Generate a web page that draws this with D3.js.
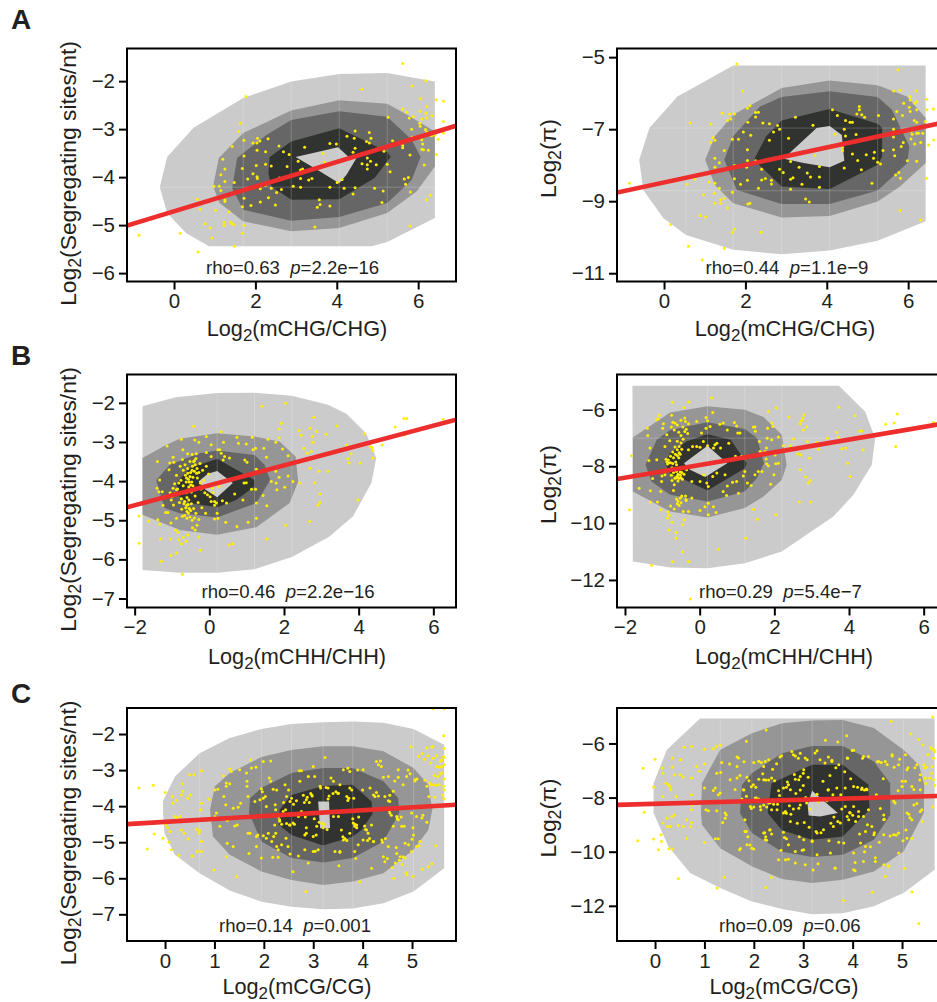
<!DOCTYPE html>
<html>
  <head>
    <meta charset="utf-8" />
    <title>Diversity vs methylation density plots</title>
    <script src="https://d3js.org/d3.v7.min.js"></script>
    <style>
      body { margin: 0; background: #fff; overflow: hidden; }
      svg { display: block; }
      text { font-family: "Liberation Sans", Arial, sans-serif; fill: #231f20; }
    </style>
  </head>
  <body>
    <svg width="937" height="1002"></svg>
    <script>
      // ---- data, in log2 units ----
      const ticksChg = [0, 2, 4, 6];
      const ticksChh = [-2, 0, 2, 4, 6];
      const ticksCg = [0, 1, 2, 3, 4, 5];
      const ticksSegA = [-2, -3, -4, -5, -6];
      const ticksPiA = [-5, -7, -9, -11];
      const ticksSegB = [-2, -3, -4, -5, -6, -7];
      const ticksPiB = [-6, -8, -10, -12];
      const ticksSegC = [-2, -3, -4, -5, -6, -7];
      const ticksPiC = [-6, -8, -10, -12];

      const levelColors = ["#cbcbcb", "#969696", "#666666", "#313331", "#cbcbcb"];

      // contour rings: outer, mid, inner, core, hole
      const a1Rings = [
        [[-0.35,-4.21],[-0.17,-3.58],[0.48,-2.97],[1.70,-2.35],[2.88,-2.01],[4.06,-1.85],[5.24,-1.83],[6.41,-2.01],[6.41,-4.85],[5.24,-5.35],[4.85,-5.44],[0.86,-5.44],[0.30,-5.17],[-0.17,-4.75]],
        [[0.96,-4.19],[1.10,-3.60],[1.70,-3.08],[2.88,-2.61],[4.06,-2.40],[5.24,-2.47],[5.73,-2.70],[6.41,-3.05],[6.41,-3.78],[5.96,-4.30],[5.24,-4.75],[4.06,-5.06],[2.88,-5.13],[1.70,-4.92],[1.12,-4.54]],
        [[1.43,-4.23],[1.55,-3.60],[2.27,-3.12],[2.88,-2.81],[4.06,-2.63],[5.24,-2.74],[5.84,-3.22],[6.06,-3.58],[5.84,-4.06],[5.24,-4.54],[4.06,-4.83],[2.88,-4.91],[1.70,-4.68]],
        [[2.32,-3.92],[2.35,-3.58],[2.88,-3.26],[4.06,-2.98],[5.24,-3.47],[5.32,-3.58],[4.93,-4.02],[4.06,-4.46],[2.88,-4.47],[2.39,-4.19]],
        [[2.99,-3.58],[4.03,-3.38],[4.28,-3.57],[4.50,-3.58],[4.24,-3.95],[4.06,-4.13],[3.58,-3.88]]
      ];
      const a2Rings = [
        [[-0.61,-7.85],[-0.36,-6.97],[0.33,-6.09],[1.70,-5.23],[6.43,-5.23],[6.43,-9.56],[5.25,-10.10],[4.07,-10.37],[2.89,-10.47],[1.70,-10.35],[0.54,-9.94],[-0.02,-9.47],[-0.51,-8.69]],
        [[1.01,-7.85],[1.25,-7.20],[1.70,-6.60],[2.89,-5.86],[4.07,-5.65],[5.25,-5.78],[5.97,-6.09],[6.43,-6.69],[6.43,-7.94],[5.80,-8.59],[5.25,-9.01],[4.07,-9.41],[2.89,-9.45],[1.70,-9.06],[1.25,-8.55]],
        [[1.48,-7.85],[1.70,-7.20],[2.36,-6.37],[2.89,-6.11],[4.07,-5.95],[5.25,-6.11],[5.60,-6.46],[6.03,-7.48],[5.98,-7.94],[5.25,-8.70],[4.07,-9.08],[2.89,-9.08],[1.79,-8.69]],
        [[2.21,-7.85],[2.51,-7.20],[2.89,-6.76],[4.07,-6.44],[5.25,-6.85],[5.36,-6.97],[5.36,-7.76],[5.25,-7.99],[4.07,-8.66],[2.89,-8.59]],
        [[3.06,-7.69],[3.75,-6.97],[4.07,-6.91],[4.37,-7.16],[4.43,-7.88],[4.07,-8.06],[3.43,-7.94],[2.89,-7.81]]
      ];
      const b1Rings = [
        [[-1.79,-2.09],[-0.90,-1.86],[0.21,-1.75],[1.21,-1.74],[2.21,-1.82],[3.18,-2.05],[3.67,-2.28],[4.20,-2.78],[4.47,-3.41],[4.34,-4.05],[3.85,-4.90],[3.21,-5.42],[2.21,-5.94],[1.21,-6.25],[0.21,-6.34],[-0.79,-6.34],[-1.79,-6.27]],
        [[-1.79,-3.41],[-1.15,-3.07],[-0.79,-2.92],[0.21,-2.78],[1.21,-2.86],[1.88,-2.99],[2.31,-3.37],[2.38,-4.01],[2.15,-4.56],[1.26,-5.18],[0.21,-5.37],[-0.79,-5.25],[-1.79,-4.86]],
        [[-1.42,-3.98],[-1.06,-3.58],[-0.26,-3.29],[0.21,-3.22],[1.21,-3.33],[1.48,-3.58],[1.63,-3.97],[1.26,-4.56],[0.21,-4.93],[-0.79,-4.82],[-1.20,-4.69]],
        [[-0.88,-4.05],[-0.53,-3.67],[0.21,-3.43],[1.21,-3.97],[1.21,-4.14],[0.72,-4.48],[0.21,-4.67],[-0.53,-4.56],[-0.81,-4.39]],
        [[-0.29,-4.01],[-0.04,-3.81],[0.21,-3.74],[0.63,-4.05],[0.21,-4.41],[-0.13,-4.20]]
      ];
      const b2Rings = [
        [[-1.80,-5.17],[3.73,-5.17],[4.43,-6.07],[4.70,-7.01],[4.61,-7.95],[4.12,-9.00],[3.58,-9.77],[2.20,-11.00],[1.21,-11.41],[0.21,-11.59],[-0.79,-11.56],[-1.79,-11.35]],
        [[-1.79,-6.99],[-0.79,-6.11],[0.21,-5.89],[1.21,-6.01],[1.71,-6.27],[2.20,-6.89],[2.33,-7.95],[2.20,-8.48],[1.71,-9.06],[1.21,-9.47],[0.21,-9.80],[-0.79,-9.59],[-1.79,-8.89]],
        [[-1.45,-7.95],[-1.15,-7.07],[-0.79,-6.72],[0.21,-6.45],[1.21,-6.69],[1.54,-7.01],[1.72,-7.89],[1.53,-8.42],[1.21,-8.89],[0.21,-9.24],[-0.79,-9.00],[-1.29,-8.54]],
        [[-0.93,-7.89],[-0.79,-7.54],[-0.35,-7.13],[0.21,-6.87],[0.83,-7.07],[1.26,-7.89],[1.21,-8.07],[0.21,-8.85],[-0.79,-8.24]],
        [[-0.42,-7.89],[0.21,-7.28],[0.74,-7.89],[0.15,-8.38],[-0.26,-8.12]]
      ];
      const c1Rings = [
        [[-0.04,-4.19],[-0.04,-3.85],[0.20,-3.18],[0.70,-2.53],[1.31,-2.11],[1.95,-1.86],[2.56,-1.72],[3.20,-1.67],[3.80,-1.65],[4.42,-1.69],[5.03,-1.86],[5.65,-2.30],[5.65,-5.72],[5.03,-6.37],[4.42,-6.69],[3.80,-6.84],[3.20,-6.86],[2.56,-6.79],[1.95,-6.65],[1.31,-6.34],[0.70,-5.86],[0.20,-5.35],[-0.01,-4.75]],
        [[0.91,-4.10],[1.01,-3.45],[1.31,-3.08],[1.95,-2.64],[2.56,-2.44],[3.20,-2.34],[3.80,-2.34],[4.42,-2.48],[5.03,-2.94],[5.33,-3.41],[5.41,-4.10],[5.33,-4.66],[5.03,-5.21],[4.42,-5.86],[3.80,-6.09],[3.20,-6.19],[2.56,-6.05],[1.95,-5.81],[1.31,-5.35],[0.97,-4.84]],
        [[1.70,-4.19],[1.72,-3.78],[1.95,-3.50],[2.56,-3.08],[3.20,-2.94],[3.80,-2.94],[4.42,-3.31],[4.72,-3.78],[4.74,-4.19],[4.42,-4.98],[3.80,-5.44],[3.20,-5.56],[2.56,-5.44],[1.95,-4.98]],
        [[2.32,-4.10],[2.56,-3.69],[3.20,-3.44],[3.80,-3.41],[4.18,-3.87],[4.20,-4.21],[3.98,-4.66],[3.80,-4.84],[3.20,-5.09],[2.56,-4.80],[2.31,-4.52]],
        [[3.10,-3.87],[3.32,-3.87],[3.34,-4.61],[3.14,-4.61]]
      ];
      const c2Rings = [
        [[0.91,-5.08],[5.66,-5.08],[5.66,-10.67],[5.03,-11.53],[4.43,-12.02],[3.80,-12.27],[3.18,-12.31],[2.57,-12.12],[1.96,-11.84],[1.32,-11.34],[0.71,-10.79],[0.27,-9.81],[-0.03,-8.57],[-0.03,-7.47],[0.24,-6.23]],
        [[0.93,-8.57],[0.95,-7.47],[1.32,-6.23],[1.96,-5.62],[2.57,-5.25],[3.18,-5.15],[3.80,-5.13],[4.43,-5.43],[5.03,-6.23],[5.34,-6.79],[5.45,-7.53],[5.44,-8.57],[5.03,-9.99],[4.43,-10.73],[3.80,-11.04],[3.18,-11.16],[2.57,-11.01],[1.96,-10.54],[1.32,-9.87],[0.95,-9.00]],
        [[1.72,-8.57],[1.76,-7.53],[1.96,-7.10],[2.57,-6.36],[3.18,-6.09],[3.80,-6.09],[4.43,-6.67],[4.76,-7.47],[4.76,-8.64],[4.43,-9.56],[3.80,-10.11],[3.18,-10.20],[2.57,-10.00],[1.96,-9.31]],
        [[2.28,-8.57],[2.36,-7.47],[3.18,-6.79],[3.80,-6.79],[4.32,-7.53],[4.34,-8.45],[3.80,-9.44],[3.18,-9.56],[2.57,-9.21]],
        [[3.09,-8.27],[3.18,-7.75],[3.70,-8.57],[3.34,-8.70],[3.11,-8.66]]
      ];

      const a1Seams = { x: [1.70, 2.88, 4.06, 5.24], y: [-4.21] };
      const a2Seams = { x: [0.54, 1.70, 2.89, 4.07, 5.25], y: [-6.97, -8.71] };
      const b1Seams = { x: [0.21, 1.21, 2.21], y: [] };
      const b2Seams = { x: [0.21, 1.21, 2.20], y: [-7.01] };
      const c1Seams = { x: [0.70, 1.95, 2.56, 3.20, 3.80, 5.03], y: [] };
      const c2Seams = { x: [1.32, 1.96, 2.57, 3.18, 3.80, 5.03], y: [] };

      const a1Points = [[-0.86,-5.21],[0.15,-5.17],[0.59,-5.56],[0.57,-4.46],[0.64,-4.67],[0.76,-4.97],[0.89,-5.06],[0.93,-5.27],[1.02,-4.69],[0.98,-4.19],[1.11,-4.19],[1.15,-4.28],[1.15,-3.95],[1.20,-3.63],[1.25,-3.83],[1.25,-4.09],[1.25,-4.47],[1.25,-4.51],[1.35,-4.72],[1.23,-4.94],[1.23,-5.01],[1.39,-4.94],[1.43,-4.97],[1.47,-4.99],[1.48,-5.44],[1.48,-4.11],[1.43,-3.36],[1.59,-3.05],[1.63,-2.88],[1.77,-2.32],[1.72,-3.23],[1.72,-3.56],[1.68,-3.82],[1.81,-4.04],[1.72,-4.44],[1.68,-4.62],[1.72,-5.01],[1.68,-5.17],[1.89,-4.59],[1.94,-3.29],[2.05,-3.19],[2.04,-3.29],[2.11,-3.25],[2.04,-3.44],[2.25,-3.47],[2.31,-3.20],[2.02,-3.76],[1.94,-3.93],[2.04,-3.99],[2.05,-4.03],[2.12,-4.24],[2.25,-3.73],[2.39,-3.77],[2.25,-4.17],[2.12,-4.52],[2.32,-4.43],[2.39,-4.23],[2.52,-4.32],[2.49,-4.58],[2.59,-4.02],[2.64,-4.26],[2.58,-3.35],[2.69,-3.47],[2.83,-3.53],[2.78,-3.78],[3.05,-3.67],[3.11,-3.85],[3.16,-3.83],[2.93,-4.19],[3.11,-4.03],[3.11,-4.21],[3.21,-3.38],[3.31,-4.06],[3.39,-4.03],[3.46,-5.04],[3.52,-4.63],[3.57,-4.47],[3.59,-4.57],[3.66,-3.51],[3.70,-3.69],[3.83,-3.30],[3.99,-3.31],[3.83,-4.21],[3.83,-4.60],[4.01,-4.11],[4.13,-4.05],[4.18,-4.23],[4.25,-3.15],[4.45,-3.04],[4.43,-3.19],[4.45,-3.40],[4.40,-3.48],[4.40,-4.35],[4.45,-4.22],[4.62,-2.17],[4.62,-3.72],[4.80,-3.07],[4.84,-3.19],[4.73,-3.26],[4.80,-3.29],[4.75,-3.60],[4.83,-3.67],[4.75,-3.74],[4.75,-3.83],[4.97,-3.74],[4.93,-4.23],[5.11,-4.53],[5.14,-4.29],[5.16,-3.46],[5.24,-3.73],[5.31,-3.89],[5.26,-2.75],[5.37,-3.24],[5.62,-1.63],[5.62,-2.58],[5.62,-3.34],[5.62,-3.39],[5.66,-4.04],[5.76,-4.01],[5.69,-4.15],[5.81,-4.31],[5.80,-5.02],[5.72,-2.65],[5.78,-2.77],[5.88,-2.74],[5.84,-3.00],[5.85,-3.17],[5.80,-3.54],[5.85,-2.10],[6.06,-2.36],[6.19,-1.99],[6.05,-2.63],[6.19,-2.67],[6.21,-2.53],[6.09,-2.79],[6.21,-2.77],[6.34,-2.72],[6.45,-2.39],[6.62,-2.42],[6.04,-2.88],[6.05,-2.94],[6.18,-3.01],[6.21,-3.06],[6.09,-3.22],[6.11,-3.31],[6.09,-3.42],[6.13,-3.43],[6.25,-3.44],[6.15,-3.75],[6.21,-4.47],[6.30,-4.38],[6.45,-3.53],[6.49,-3.21],[6.41,-3.13],[6.62,-2.84],[6.62,-3.08],[6.33,-3.14]];

      const a2Points = [[-0.85,-8.50],[0.16,-9.65],[0.57,-8.53],[0.60,-10.25],[0.64,-6.83],[0.76,-8.39],[0.94,-10.63],[0.97,-8.82],[0.89,-9.40],[1.02,-9.44],[1.11,-8.47],[1.15,-6.86],[1.15,-7.36],[1.20,-7.23],[1.25,-7.31],[1.25,-7.81],[1.25,-8.06],[1.25,-8.50],[1.24,-8.78],[1.25,-9.06],[1.36,-7.93],[1.36,-8.64],[1.39,-8.96],[1.39,-9.06],[1.43,-6.56],[1.48,-7.59],[1.48,-8.92],[1.48,-10.31],[1.56,-6.76],[1.56,-9.19],[1.61,-6.58],[1.64,-6.72],[1.68,-7.28],[1.68,-8.75],[1.68,-9.87],[1.73,-6.58],[1.73,-9.78],[1.73,-8.01],[1.73,-8.38],[1.79,-5.19],[1.83,-7.28],[1.88,-8.53],[1.93,-5.94],[1.95,-7.08],[2.05,-6.42],[2.11,-6.35],[2.06,-6.81],[2.05,-7.57],[2.05,-7.87],[2.03,-8.06],[2.05,-8.42],[2.06,-9.08],[2.11,-9.06],[2.13,-7.17],[2.25,-6.54],[2.32,-6.53],[2.25,-6.66],[2.25,-7.88],[2.32,-8.64],[2.40,-8.11],[2.40,-8.41],[2.39,-9.86],[2.43,-6.83],[2.49,-8.37],[2.59,-6.85],[2.59,-7.31],[2.64,-8.42],[2.64,-8.52],[2.69,-7.08],[2.79,-6.90],[2.84,-7.00],[2.84,-8.11],[2.93,-8.20],[3.06,-7.25],[3.11,-7.90],[3.11,-8.39],[3.11,-8.67],[3.17,-8.35],[3.23,-6.67],[3.32,-8.06],[3.39,-8.53],[3.48,-8.94],[3.52,-8.22],[3.57,-9.02],[3.60,-8.33],[3.66,-6.89],[3.71,-7.73],[3.82,-8.04],[3.82,-8.33],[3.82,-8.61],[4.00,-7.53],[4.14,-6.46],[4.20,-7.14],[4.26,-6.62],[4.39,-7.51],[4.39,-7.59],[4.43,-7.00],[4.46,-6.76],[4.46,-7.19],[4.43,-8.08],[4.57,-6.81],[4.63,-6.81],[4.63,-7.69],[4.72,-7.15],[4.74,-6.58],[4.76,-7.87],[4.80,-6.37],[4.80,-6.46],[4.86,-6.60],[4.85,-8.13],[4.93,-6.67],[4.97,-7.71],[5.11,-8.50],[5.15,-7.81],[5.17,-7.64],[5.25,-7.92],[5.27,-6.62],[5.32,-7.97],[5.38,-7.59],[5.64,-5.94],[5.64,-6.72],[5.64,-7.00],[5.64,-7.22],[5.64,-7.57],[5.67,-7.74],[5.69,-8.27],[5.75,-5.35],[5.77,-8.20],[5.81,-8.36],[5.80,-9.26],[5.80,-5.92],[5.72,-6.51],[5.86,-6.62],[5.89,-6.28],[5.83,-7.48],[5.88,-7.37],[5.84,-7.04],[5.98,-7.88],[6.05,-6.09],[6.05,-6.19],[6.03,-6.39],[6.05,-6.51],[6.16,-6.28],[6.21,-6.23],[6.20,-5.94],[6.21,-6.46],[6.15,-6.76],[6.21,-6.81],[6.07,-7.06],[6.10,-7.14],[6.07,-7.27],[6.16,-7.41],[6.21,-7.11],[6.31,-7.37],[6.25,-7.11],[6.36,-7.11],[6.21,-7.89],[6.31,-9.52],[6.45,-8.36],[6.46,-6.17],[6.46,-6.46],[6.42,-6.79],[6.62,-6.44],[6.63,-7.30],[6.50,-7.44]];

      const b1Points = [[-1.88,-4.89],[-1.88,-5.59],[-1.62,-5.02],[-1.39,-3.50],[-1.40,-4.18],[-1.33,-3.97],[-1.35,-4.27],[-1.26,-4.27],[-1.38,-4.99],[-1.33,-5.10],[-1.31,-5.48],[-1.29,-6.05],[-1.24,-4.62],[-1.13,-3.10],[-1.17,-4.80],[-1.11,-4.80],[-1.06,-3.54],[-1.08,-3.71],[-1.03,-5.07],[-1.04,-5.48],[-1.03,-5.90],[-1.02,-4.48],[-0.97,-3.39],[-0.95,-3.52],[-0.93,-4.07],[-0.97,-4.18],[-0.96,-4.61],[-0.88,-5.84],[-0.90,-5.25],[-0.84,-5.31],[-0.88,-4.95],[-0.82,-5.50],[-0.75,-2.93],[-0.72,-6.38],[-0.71,-3.20],[-0.42,-2.60],[-0.39,-2.95],[-0.28,-3.01],[-0.08,-2.86],[-0.24,-5.77],[-0.28,-5.43],[-0.75,-5.60],[-0.62,-5.54],[-0.70,-5.44],[-0.58,-5.38],[-0.45,-5.19],[-0.38,-5.25],[-0.33,-5.13],[-0.46,-5.00],[-0.40,-4.94],[-0.28,-4.98],
        [-0.88,-3.85],[-0.85,-4.20],[-0.82,-4.05],[-0.80,-4.32],[-0.78,-3.62],[-0.76,-3.98],[-0.75,-4.45],[-0.74,-4.72],[-0.72,-3.45],[-0.70,-3.72],[-0.70,-4.12],[-0.68,-4.58],[-0.66,-4.88],[-0.65,-3.58],[-0.64,-3.85],[-0.62,-4.02],[-0.62,-4.30],[-0.60,-4.62],[-0.60,-4.78],[-0.58,-3.30],[-0.58,-3.68],[-0.56,-3.95],[-0.55,-4.15],[-0.55,-4.48],[-0.54,-4.70],[-0.52,-4.92],[-0.52,-3.50],[-0.50,-3.78],[-0.50,-4.10],[-0.48,-4.28],[-0.48,-4.58],[-0.46,-3.32],[-0.45,-3.62],[-0.44,-3.90],[-0.44,-4.12],[-0.42,-4.70],[-0.40,-3.48],[-0.40,-3.75],[-0.38,-3.58],[-0.38,-4.38],[-0.36,-4.82],[-0.35,-3.30],[-0.33,-3.68],[-0.32,-3.92],[-0.30,-4.55],[-0.28,-3.78],[-0.25,-3.55],[-0.24,-4.05],[-0.22,-4.20],[-0.20,-4.68],[-0.18,-3.72],[-0.15,-3.98],[-0.12,-4.30],[-0.10,-4.82],[-0.08,-3.62],[-0.05,-4.35],[-0.02,-3.82],[0.02,-4.40],[0.05,-4.52],[0.08,-4.18],[0.14,-4.62],[-0.66,-4.52],[-0.63,-4.68],[-0.60,-4.42],[-0.57,-4.60],[-0.56,-4.82],[-0.61,-3.92],[-0.58,-3.80],[-0.54,-4.02],[-0.52,-3.88],[-0.47,-4.02],[-0.46,-3.72],[-0.42,-3.50],[-0.36,-3.42],[-0.34,-3.80],[-0.60,-4.95],[-0.50,-4.75],[-0.72,-4.90],[-0.80,-4.55],[-1.00,-4.40],[-1.05,-4.30],[-0.92,-4.32],[-0.88,-4.22],
        [0.31,-2.74],[0.38,-3.01],[0.74,-2.88],[0.78,-3.03],[0.99,-3.05],[1.15,-2.88],[1.24,-3.16],[1.17,-3.20],[1.46,-3.16],[1.41,-2.09],[1.57,-2.93],[1.87,-2.67],[1.93,-2.52],[2.04,-2.01],[1.87,-2.89],[1.78,-3.01],[1.96,-3.18],[2.11,-3.35],[1.53,-3.39],[1.78,-3.75],[1.87,-3.90],[1.66,-4.01],[1.79,-4.05],[2.02,-4.16],[1.81,-4.22],[2.24,-4.01],[2.11,-3.87],[2.42,-4.05],[2.40,-2.71],[2.46,-2.83],[2.69,-2.65],[2.87,-2.73],[2.76,-2.86],[2.78,-3.01],[2.80,-2.37],[2.53,-3.16],[2.62,-3.29],[2.73,-3.24],[2.69,-3.67],[2.94,-3.75],[3.18,-3.75],[3.13,-2.80],[3.42,-2.59],[2.82,-4.04],[2.96,-4.33],[2.96,-4.55],[2.91,-4.62],[2.69,-5.03],[2.04,-5.13],[1.54,-5.48],[0.53,-5.63],[0.63,-5.60],[1.26,-4.95],[1.04,-5.05],[0.74,-5.16],[0.44,-5.05],[1.54,-4.63],[1.44,-4.37],[1.26,-4.56],[1.13,-4.21],[1.24,-4.21],[0.99,-4.04],[0.93,-4.05],[0.68,-4.33],[0.90,-4.48],[0.46,-4.56],[0.35,-4.50],[0.26,-4.14],[0.10,-4.29],[0.19,-4.56],[0.14,-4.52],[0.21,-4.82],[0.23,-4.95],[0.14,-4.97],[0.95,-3.46],[1.01,-3.52],[1.26,-3.70],[0.41,-3.37],[0.37,-3.46],[0.54,-3.41],[0.23,-3.20],[0.28,-3.20],[0.32,-3.29],[0.05,-3.37],[-0.08,-3.27],[0.05,-3.07],[3.67,-3.08],[3.71,-3.43],[3.74,-3.54],[3.80,-3.30],[4.04,-3.54],[3.98,-4.48],[4.16,-2.79],[4.31,-3.12],[4.36,-3.14],[4.38,-3.22],[4.38,-3.41],[4.63,-3.08],[4.98,-2.62],[5.21,-2.40],[5.29,-2.40],[5.23,-2.82],[6.26,-2.42]];

      const b2Points = [[-1.88,-9.53],[-1.83,-7.63],[-1.62,-8.77],[-1.40,-6.66],[-1.39,-6.92],[-1.33,-7.36],[-1.36,-7.80],[-1.26,-8.43],[-1.32,-8.86],[-1.32,-9.26],[-1.29,-11.48],[-1.15,-7.77],[-1.15,-6.36],[-1.11,-6.34],[-1.08,-6.20],[-0.99,-6.66],[-0.97,-6.50],[-1.04,-9.53],[-1.13,-9.26],[-1.02,-8.54],[-1.04,-8.89],[-1.01,-8.34],[-0.93,-8.30],[-0.93,-7.30],[-0.88,-6.89],[-0.75,-6.20],[-0.73,-5.75],[-0.76,-6.62],[-0.68,-6.72],[-0.73,-11.35],[-0.82,-10.24],[-0.74,-9.97],[-0.63,-10.33],[-0.63,-10.53],[-0.46,-11.01],[-0.46,-10.06],[-0.41,-9.88],[-0.42,-5.93],[-0.29,-5.74],[-0.29,-11.35],[-0.25,-12.67],
        [-0.90,-7.75],[-0.88,-7.85],[-0.86,-7.92],[-0.84,-7.78],[-0.82,-7.88],[-0.80,-7.10],[-0.78,-7.65],[-0.76,-8.32],[-0.74,-8.05],[-0.74,-8.50],[-0.72,-7.50],[-0.70,-7.70],[-0.70,-8.22],[-0.68,-8.65],[-0.66,-7.32],[-0.65,-7.58],[-0.64,-7.85],[-0.63,-8.40],[-0.62,-8.18],[-0.60,-7.12],[-0.60,-7.62],[-0.58,-8.28],[-0.58,-8.52],[-0.56,-6.80],[-0.55,-7.30],[-0.55,-7.52],[-0.54,-8.08],[-0.52,-8.32],[-0.50,-6.92],[-0.50,-7.18],[-0.48,-8.22],[-0.46,-8.46],[-0.45,-6.62],[-0.44,-7.05],[-0.42,-8.28],[-0.40,-6.78],[-0.38,-6.42],[-0.36,-6.70],[-0.35,-8.12],[-0.32,-6.85],[-0.30,-6.50],[-0.62,-9.15],[-0.60,-9.32],[-0.58,-9.22],[-0.55,-9.38],[-0.52,-9.12],[-0.50,-9.28],[-0.48,-9.05],[-0.70,-8.85],[-0.68,-9.50],[-0.78,-9.40],[-0.85,-9.60],[-0.82,-9.72],[-0.86,-9.82],[-0.72,-6.45],[-0.66,-6.48],[-0.60,-6.55],[-0.50,-6.38],[-0.40,-6.30],[-0.36,-9.20],[-0.38,-9.05],[-0.66,-8.42],[-0.60,-8.35],[-0.56,-8.42],[-0.52,-8.20],[-0.50,-8.40],[-0.60,-7.42],[-0.56,-7.70],[-0.52,-7.58],[-0.48,-7.40],[-0.62,-7.95],[-0.78,-7.88],[-0.72,-7.90],
        [1.60,-7.13],[1.62,-7.48],[1.75,-7.48],[1.81,-7.01],[1.79,-7.36],[1.93,-7.07],[2.11,-6.97],[2.24,-7.28],[1.78,-7.74],[1.79,-7.91],[1.84,-7.98],[2.02,-7.60],[2.04,-7.91],[2.11,-7.89],[1.57,-8.18],[1.67,-8.18],[1.48,-8.30],[1.90,-8.63],[1.99,-8.30],[1.38,-8.68],[1.28,-8.59],[1.17,-8.34],[1.21,-8.18],[1.21,-7.71],[0.96,-7.65],[1.12,-7.65],[1.44,-6.62],[1.48,-6.62],[1.49,-6.77],[1.02,-6.83],[1.08,-6.83],[0.93,-6.46],[0.99,-6.58],[0.74,-6.72],[0.78,-7.19],[0.54,-6.52],[0.63,-6.48],[0.41,-7.24],[0.37,-7.36],[0.46,-7.19],[0.56,-7.36],[0.17,-6.28],[0.21,-6.40],[0.28,-6.60],[0.17,-6.66],[0.05,-6.83],[-0.08,-6.42],[0.21,-7.28],[0.10,-7.13],[0.01,-7.33],[-0.19,-7.30],[-0.08,-7.30],[-0.30,-7.42],[0.46,-8.24],[0.68,-8.30],[0.35,-8.36],[0.10,-8.30],[-0.21,-8.54],[0.01,-8.54],[0.19,-8.59],[0.23,-8.71],[0.88,-8.56],[0.99,-8.54],[0.74,-8.69],[0.63,-8.89],[0.72,-9.03],[1.04,-8.95],[0.37,-9.42],[0.44,-9.63],[0.23,-9.30],[0.23,-9.71],[0.01,-9.56],[0.14,-9.42],[-0.21,-9.12],[-0.37,-9.18],[-0.30,-9.59],[-0.44,-9.59],
        [0.32,-5.60],[0.35,-6.11],[0.50,-10.92],[1.24,-10.53],[1.44,-9.51],[1.54,-9.86],[2.04,-9.71],[1.84,-6.07],[2.05,-5.95],[1.93,-6.48],[1.96,-6.60],[1.82,-6.66],[2.39,-6.27],[2.80,-6.19],[2.76,-6.31],[2.73,-6.40],[2.69,-6.50],[2.78,-6.72],[2.87,-6.62],[2.51,-7.04],[2.42,-7.28],[2.63,-7.57],[2.71,-7.60],[2.88,-7.13],[2.94,-7.71],[2.69,-8.12],[2.84,-8.38],[2.96,-8.50],[2.91,-8.59],[2.67,-9.26],[2.97,-9.26],[3.73,-5.92],[4.16,-6.22],[3.13,-7.16],[3.18,-7.40],[3.42,-7.01],[3.67,-6.81],[3.71,-6.97],[3.81,-7.38],[3.91,-7.36],[3.96,-7.89],[4.03,-8.36],[4.29,-6.77],[4.34,-6.75],[4.38,-7.42],[4.98,-6.52],[5.21,-6.48],[5.25,-7.30],[5.29,-6.16],[6.26,-6.46]];

      const c1Points = [[-0.53,-3.50],[-0.24,-3.42],[-0.36,-5.19],[-0.22,-4.77],[0.00,-3.62],[-0.04,-4.89],[0.13,-5.21],[0.15,-3.73],[0.16,-3.92],[0.28,-5.36],[0.20,-4.29],[0.24,-4.33],[0.30,-4.29],[0.35,-3.38],[0.33,-3.69],[0.36,-3.59],[0.23,-3.84],[0.33,-4.66],[0.39,-4.75],[0.47,-4.91],[0.50,-3.13],[0.59,-3.13],[0.51,-3.69],[0.46,-3.78],[0.55,-5.38],[0.64,-4.64],[0.69,-4.75],[0.74,-3.02],[0.74,-3.92],[0.72,-4.10],[0.74,-4.98],[0.65,-5.26],[0.74,-5.26],[0.05,-4.60],[0.10,-4.70],[0.02,-4.52],[0.08,-5.00],[0.70,-4.68],[0.99,-5.77],[0.89,-3.81],[1.01,-3.55],[1.07,-3.53],[1.04,-4.19],[1.01,-4.29],[1.18,-3.16],[1.24,-3.36],[1.31,-3.38],[1.24,-3.45],[1.19,-3.73],[1.31,-2.97],[1.34,-3.04],[1.51,-2.99],[1.23,-3.96],[1.38,-4.06],[1.48,-4.03],[1.53,-3.92],[1.11,-4.56],[1.26,-4.40],[1.41,-4.55],[1.46,-4.52],[1.26,-5.03],[1.38,-5.12],[1.24,-5.40],[1.45,-5.95],[1.70,-5.31],[1.65,-3.08],[1.66,-3.31],[1.66,-3.45],[1.73,-2.71],[1.75,-2.94],[1.84,-2.92],[1.68,-3.73],[1.82,-3.87],[1.92,-3.82],[1.99,-2.76],[2.14,-2.75],[1.95,-3.52],[1.97,-3.60],[2.11,-3.22],[2.14,-3.31],[2.19,-3.53],[2.26,-3.55],[1.99,-3.78],[2.03,-3.73],[2.05,-4.01],[2.23,-3.96],[2.24,-4.10],[1.68,-4.75],[1.72,-4.75],[1.85,-4.84],[1.88,-4.80],[1.99,-4.82],[2.05,-4.89],[2.16,-4.98],[2.20,-4.84],[2.24,-4.75],[1.85,-5.12],[1.95,-5.44],[2.18,-5.42],[2.29,-5.21],[2.29,-5.42],[2.59,-5.82],[2.85,-6.37],[2.90,-5.58],[2.70,-5.38],[2.53,-5.33],[2.49,-5.12],[2.45,-4.89],
        [2.30,-4.30],[2.32,-4.42],[2.36,-4.50],[2.40,-3.90],[2.44,-4.10],[2.46,-4.48],[2.50,-3.55],[2.52,-4.52],[2.56,-3.78],[2.60,-3.95],[2.62,-4.50],[2.66,-3.85],[2.70,-4.25],[2.72,-3.02],[2.76,-3.02],[2.80,-3.70],[2.82,-3.90],[2.84,-4.30],[2.86,-4.60],[2.88,-3.75],[2.92,-3.90],[2.95,-3.65],[2.98,-3.72],[3.00,-2.90],[3.02,-4.35],[3.04,-5.25],[3.06,-4.80],[3.10,-5.21],[3.12,-4.45],[3.15,-3.50],[3.18,-4.48],[3.20,-4.60],[3.22,-4.50],[3.24,-2.65],[3.26,-3.48],[3.28,-4.65],[3.30,-3.80],[3.32,-3.72],[3.36,-3.22],[3.40,-3.65],[3.46,-3.60],[3.50,-3.65],[3.52,-5.65],[3.54,-5.28],[3.60,-4.85],[3.64,-4.90],[3.68,-4.95],[3.70,-2.95],[3.74,-3.50],[3.78,-3.55],[3.82,-3.78],[3.80,-4.35],[3.84,-4.50],[3.86,-5.45],[3.88,-4.60],[3.90,-3.00],[3.92,-4.30],[3.94,-6.10],[4.00,-3.55],[4.04,-4.55],[4.06,-4.65],[4.10,-4.95],[4.14,-4.90],[4.18,-5.72],[4.22,-4.98],[4.28,-3.62],[4.32,-3.72],[4.36,-2.75],[4.38,-2.90],[4.42,-3.20],[4.40,-5.00],[4.46,-4.90],[4.50,-5.45],[4.52,-3.85],[4.54,-4.12],[4.55,-3.70],[4.58,-4.25],[4.60,-5.70],[4.63,-6.00],[4.65,-3.30],[4.68,-5.15],[4.70,-4.35],[4.72,-3.20],[4.74,-5.50],[4.78,-4.30],[4.80,-5.62],[4.82,-5.40],[4.84,-4.56],[4.88,-5.85],[4.90,-5.90],[4.92,-3.00],[4.96,-3.10],[4.98,-2.35],[5.00,-4.92],[5.02,-4.60],[5.06,-3.30],[5.10,-3.25],[5.14,-5.10],[5.18,-4.00],[5.22,-4.25],[5.26,-3.28],[5.30,-4.45],[5.33,-5.68],[5.38,-2.80],[5.42,-2.35],[5.46,-3.75],[5.50,-2.60],[5.55,-3.40],[5.58,-3.10],[5.60,-2.90],[5.62,-3.70],[5.64,-2.05],[5.65,-2.40],[5.65,-2.65],[5.65,-2.85],[5.65,-3.25],[5.65,-3.55],[5.65,-3.80],[5.43,-1.30],[5.65,-1.30],[5.32,-2.60],[5.25,-2.70],[5.38,-3.40],[5.48,-3.42],[5.55,-2.92],[5.52,-3.18],[5.60,-2.72],[5.45,-3.15],[5.48,-5.10],[5.40,-5.60],[5.20,-5.75],[5.02,-5.95],
        [3.68,-3.73],[3.72,-3.78],[3.70,-3.84],[3.81,-4.47],[3.84,-4.56],[3.88,-4.52],[3.74,-4.75],[4.08,-4.66],[4.11,-4.75],[4.18,-4.52],[4.22,-3.69],[4.25,-3.73],[4.28,-2.76],[4.32,-2.85],[4.15,-3.50],[4.01,-2.99],[4.52,-3.18],[4.45,-3.73],[4.55,-3.87],[4.62,-3.59],[4.69,-4.29],[4.72,-4.38],[4.55,-4.19],[4.62,-4.56],[4.79,-4.56],[4.86,-5.03],[4.93,-5.07],[4.39,-4.94],[4.52,-5.12],[4.42,-5.40],[4.45,-5.54],[4.66,-5.58],[4.69,-5.31],[4.76,-5.40],[4.86,-5.44],[4.99,-5.26],[5.09,-5.12],[5.16,-4.98],[4.99,-4.19],[5.09,-4.29],[5.20,-4.33],[5.03,-4.80],[4.89,-3.18],[5.06,-3.27],[4.72,-2.99],[4.82,-3.41],[5.30,-2.39],[5.40,-2.36],[5.13,-2.62],[5.20,-2.55],[5.43,-2.67],[5.50,-2.90],[5.57,-2.76],[5.64,-2.62],[5.60,-3.08],[5.36,-3.36],[5.43,-3.41],[5.30,-3.45],[5.34,-3.73],[5.64,-3.45],[3.14,-3.45],[3.30,-3.50],[3.41,-3.31],[3.54,-3.41],[3.51,-3.64],[3.61,-2.99],[3.74,-3.04],[2.97,-3.69],[2.86,-3.82],[2.76,-4.15],[2.70,-4.29],[2.59,-4.47],[2.53,-4.52],[2.86,-4.75],[3.00,-4.84],[2.83,-4.80],[3.07,-4.56],[3.41,-4.29],[3.51,-4.29],[3.57,-4.66],[3.61,-4.94],[3.44,-5.26],[3.54,-5.26],[3.84,-5.26],[3.91,-5.07],[4.01,-4.94],[4.22,-4.98],[3.00,-5.26],[2.83,-5.21],[2.26,-5.12],[2.36,-5.07],[2.09,-4.75],[2.22,-4.52],[2.32,-4.38],[2.39,-4.15],[2.46,-3.73],[2.53,-3.87],[2.43,-3.41],[2.73,-3.31],[2.90,-3.18],[3.03,-3.18]];

      const c2Points = [[-0.35,-9.60],[-0.24,-6.92],[0.00,-6.58],[-0.03,-7.61],[-0.03,-9.53],[-0.22,-8.54],[0.07,-9.93],[0.12,-9.37],[0.13,-9.62],[0.16,-7.96],[0.14,-6.91],[0.16,-7.10],[0.22,-7.47],[0.27,-7.53],[0.30,-7.59],[0.32,-7.71],[0.24,-8.76],[0.16,-8.94],[0.25,-9.07],[0.30,-9.07],[0.34,-8.70],[0.39,-8.64],[0.28,-9.89],[0.35,-9.90],[0.35,-6.54],[0.35,-6.87],[0.39,-7.16],[0.43,-7.96],[0.47,-9.03],[0.47,-11.00],[0.52,-6.60],[0.51,-7.16],[0.57,-7.24],[0.59,-6.14],[0.57,-9.07],[0.64,-9.50],[0.64,-8.82],[0.74,-6.11],[0.74,-7.28],[0.74,-7.90],[0.74,-8.27],[0.74,-8.45],[0.74,-8.92],[0.72,-9.07],[0.84,-6.85],[0.90,-7.03],[1.00,-6.21],[1.00,-6.76],[1.00,-7.65],[1.00,-9.66],[1.03,-8.45],[1.08,-8.49],[1.18,-6.20],[1.24,-6.11],[1.32,-6.07],[1.25,-7.10],[1.33,-7.07],[1.35,-6.70],[1.22,-7.65],[1.18,-7.74],[1.28,-7.90],[1.32,-7.83],[1.25,-8.49],[1.22,-9.52],[1.28,-9.52],[1.25,-11.34],[1.40,-10.94],[1.42,-8.57],[1.44,-8.64],[1.37,-8.92],[1.42,-8.76],[1.51,-6.76],[1.66,-6.50],[1.69,-6.54],[1.66,-6.85],[1.52,-7.34],[1.66,-7.28],[1.71,-9.93],[1.73,-9.88],[1.72,-7.18],
        [1.85,-5.92],[1.80,-6.68],[1.86,-7.25],[1.90,-7.38],[1.95,-7.60],[1.80,-7.72],[2.00,-6.70],[2.10,-6.66],[2.15,-6.70],[2.18,-7.12],[2.25,-5.50],[2.20,-6.85],[2.24,-7.35],[2.30,-7.35],[1.82,-8.82],[1.85,-9.25],[1.88,-9.45],[1.92,-9.75],[2.00,-9.90],[1.95,-8.40],[2.00,-8.35],[2.05,-8.02],[2.10,-8.05],[2.14,-8.45],[2.18,-8.12],[2.22,-8.10],[2.26,-8.35],[2.30,-8.20],[2.22,-9.30],[2.24,-9.45],[2.26,-9.58],[2.32,-9.20],[2.36,-9.35],[2.24,-11.32],[2.35,-10.95],[2.38,-6.95],[2.42,-7.38],[2.46,-6.75],[2.50,-7.75],[2.52,-7.92],[2.56,-6.45],[2.60,-9.28],[2.62,-9.48],[2.55,-9.95],[2.66,-9.52],[2.68,-7.42],[2.72,-8.30],[2.75,-8.62],[2.70,-10.28],[2.80,-6.42],[2.82,-7.15],[2.85,-7.85],[2.88,-8.95],[2.90,-6.55],[2.94,-7.72],[2.98,-9.95],[3.00,-7.10],[3.05,-8.00],[3.08,-6.60],[3.10,-7.25],[3.14,-8.42],[3.18,-9.60],[3.20,-10.68],[3.24,-6.35],[3.28,-7.88],[3.30,-10.45],[3.36,-9.30],[3.40,-7.40],[3.44,-6.72],[3.48,-8.12],[3.52,-9.60],[3.54,-7.18],[3.58,-6.62],[3.60,-7.90],[3.64,-10.60],[3.66,-6.90],[3.68,-8.05],[3.70,-5.95],[3.72,-9.65],[3.76,-7.90],[3.78,-8.42],[3.82,-11.80],[3.84,-7.05],[3.88,-5.72],[3.90,-6.55],[3.94,-8.55],[3.96,-7.30],[4.00,-8.65],[4.05,-10.70],[4.02,-6.25],[4.10,-7.62],[4.14,-9.35],[4.18,-7.70],[4.20,-6.55],[4.22,-6.48],[4.24,-10.00],[4.28,-7.68],[4.32,-8.45],[4.36,-9.82],[4.40,-11.50],[4.44,-9.30],[4.46,-10.22],[4.48,-7.90],[4.50,-6.68],[4.54,-9.65],[4.56,-8.40],[4.58,-6.70],[4.62,-7.30],[4.64,-8.80],[4.66,-10.92],[4.70,-6.78],[4.72,-10.52],[4.76,-9.42],[4.80,-6.42],[4.84,-6.88],[4.88,-9.38],[4.92,-7.75],[4.95,-6.58],[5.00,-7.40],[5.02,-9.60],[5.05,-10.62],[5.08,-9.20],[5.12,-6.90],[5.14,-8.62],[5.16,-8.75],[5.18,-5.65],[5.20,-11.48],[5.24,-7.70],[5.26,-6.90],[5.30,-8.22],[5.34,-12.65],[5.34,-5.85],[5.36,-7.35],[5.40,-8.45],[5.42,-6.05],[5.46,-6.90],[5.48,-7.48],[5.52,-6.42],[5.56,-7.28],[5.60,-6.20],[5.60,-7.10],[5.62,-5.02],[5.64,-6.55],[5.66,-7.55],[5.62,-8.35],[5.66,-6.30],[5.58,-6.15],[5.50,-6.88],[4.78,-5.18],[3.45,-5.88],[3.02,-8.92],[2.80,-8.42],[2.66,-8.58],[2.92,-9.45],[3.12,-9.10],[3.26,-9.25],[3.50,-7.72],[3.56,-8.95],[3.92,-8.82],[4.06,-8.88],[4.12,-8.70],[4.24,-7.72],[4.30,-9.00],[3.00,-7.55],[2.84,-7.32],[2.66,-7.62],[3.30,-8.15],[3.40,-8.05],[3.62,-8.72],[3.70,-8.88],[2.48,-8.25],[2.40,-8.25],[2.34,-8.12],[1.76,-8.05],[1.62,-7.70],[1.85,-7.95],[2.04,-7.62],[2.10,-7.32],
        [2.77,-6.30],[2.84,-6.46],[2.94,-6.36],[3.04,-6.54],[3.28,-6.27],[3.34,-6.60],[3.51,-6.50],[3.58,-6.67],[3.72,-6.79],[3.89,-6.54],[3.99,-6.26],[4.32,-6.48],[4.53,-6.67],[4.66,-6.67],[4.80,-6.46],[4.93,-6.79],[5.07,-6.42],[5.30,-6.79],[5.44,-6.79],[5.64,-6.23],[5.61,-6.85],[5.37,-7.16],[5.47,-7.28],[5.64,-7.34],[5.10,-6.97],[5.07,-7.40],[5.00,-7.59],[5.20,-7.59],[5.37,-7.71],[5.10,-8.57],[5.24,-8.27],[5.37,-8.51],[5.41,-8.88],[5.20,-8.82],[4.83,-8.14],[4.86,-8.20],[4.49,-7.96],[4.63,-8.64],[4.63,-8.82],[4.39,-9.07],[4.26,-9.25],[4.43,-9.37],[4.63,-9.37],[4.83,-9.37],[4.93,-9.31],[5.10,-9.50],[5.20,-9.50],[4.93,-10.05],[4.73,-10.54],[4.63,-10.48],[4.46,-10.36],[4.22,-10.36],[4.05,-10.40],[4.02,-10.67],[3.65,-10.61],[3.04,-10.48],[2.84,-10.42],[2.64,-10.30],[2.50,-10.30],[2.70,-9.74],[2.84,-9.99],[3.01,-9.93],[3.28,-10.11],[3.55,-10.05],[3.82,-9.68],[4.16,-9.68],[4.02,-10.05],[4.26,-9.81],[2.20,-9.31],[2.23,-9.56],[2.33,-9.19],[1.86,-9.74],[1.96,-9.87],[1.82,-9.25],[2.60,-7.65],[2.70,-7.53],[2.91,-7.34],[3.01,-6.97],[2.94,-7.22],[2.74,-7.71],[3.51,-7.71],[3.68,-7.65],[3.85,-7.65],[4.02,-7.59],[4.19,-7.65],[4.29,-7.71],[3.85,-8.33],[4.02,-8.33],[3.95,-8.57],[4.12,-8.51],[4.22,-8.70],[3.89,-8.70],[3.75,-8.94],[3.61,-9.07],[3.41,-9.19],[3.28,-9.31],[3.18,-9.62],[3.01,-9.56],[2.74,-8.88],[2.60,-8.57],[2.64,-8.51],[2.91,-8.39],[2.94,-8.27],[3.07,-8.20],[2.33,-8.20],[2.36,-8.45],[2.47,-8.45],[2.20,-8.27],[2.13,-8.33],[2.03,-8.02],[1.93,-8.33],[1.79,-7.71],[1.99,-7.53],[2.20,-7.34],[2.36,-7.28],[2.53,-6.50],[2.23,-6.67],[2.30,-6.60]];

      const panels = [
        { rings: a1Rings, seams: a1Seams, points: a1Points, xd: [-1.156, 6.93], yd: [-1.32, -6.175], xt: ticksChg, yt: ticksSegA, fit: [-5.01, -2.93], left: 127, top: 48.5, h: 233, xl: "mCHG/CHG", yl: "seg", stat: ["rho=0.63", "=2.2e−16"], sx: 206, sy: 274, xlc: 297, xlb: 336 },
        { rings: a2Rings, seams: a2Seams, points: a2Points, xd: [-1.156, 6.93], yd: [-4.76, -11.23], xt: ticksChg, yt: ticksPiA, fit: [-8.76, -6.80], left: 617, top: 48.5, h: 233, xl: "mCHG/CHG", yl: "pi", stat: ["rho=0.44", "=1.1e−9"], sx: 705.5, sy: 274, xlc: 785, xlb: 336 },
        { rings: b1Rings, seams: b1Seams, points: b1Points, xd: [-2.205, 6.607], yd: [-1.276, -7.23], xt: ticksChh, yt: ticksSegB, fit: [-4.67, -2.43], left: 127, top: 374.5, h: 233, xl: "mCHH/CHH", yl: "seg", stat: ["rho=0.46", "=2.2e−16"], sx: 201.5, sy: 598, xlc: 297, xlb: 664 },
        { rings: b2Rings, seams: b2Seams, points: b2Points, xd: [-2.214, 6.598], yd: [-4.77, -12.97], xt: ticksChh, yt: ticksPiB, fit: [-8.45, -6.48], left: 617, top: 374.5, h: 233, xl: "mCHH/CHH", yl: "pi", stat: ["rho=0.29", "=5.4e−7"], sx: 699, sy: 598, xlc: 784, xlb: 664 },
        { rings: c1Rings, seams: c1Seams, points: c1Points, xd: [-0.77, 5.89], yd: [-1.278, -7.74], xt: ticksCg, yt: ticksSegC, fit: [-4.50, -3.96], left: 127, top: 708, h: 233, xl: "mCG/CG", yl: "seg", stat: ["rho=0.14", "=0.001"], sx: 219, sy: 932, xlc: 297, xlb: 994 },
        { rings: c2Rings, seams: c2Seams, points: c2Points, xd: [-0.77, 5.89], yd: [-4.69, -13.3], xt: ticksCg, yt: ticksPiC, fit: [-8.27, -7.93], left: 617, top: 708, h: 233, xl: "mCG/CG", yl: "pi", stat: ["rho=0.09", "=0.06"], sx: 719, sy: 932, xlc: 784, xlb: 994 }
      ];

      const panelWidth = 329;
      const svg = d3.select("svg");
      const defs = svg.append("defs");

      // Log2(...) with a real subscript
      function logLabel(sel, inner) {
        sel.append("tspan").text("Log");
        sel.append("tspan").attr("font-size", "0.78em").attr("dy", "0.3em").text("2");
        sel.append("tspan").attr("dy", "-0.234em").text(`(${inner})`);
      }

      panels.forEach((p, i) => {
        const g = svg.append("g");
        const x = d3.scaleLinear().domain(p.xd).range([p.left, p.left + panelWidth]);
        const y = d3.scaleLinear().domain(p.yd).range([p.top, p.top + p.h]);
        const path = d3.line().x(d => x(d[0])).y(d => y(d[1])).curve(d3.curveLinearClosed);

        defs.append("clipPath").attr("id", `frame${i}`).append("rect")
          .attr("x", p.left).attr("y", p.top).attr("width", panelWidth).attr("height", p.h);
        defs.append("clipPath").attr("id", `outer${i}`).append("path").attr("d", path(p.rings[0]));

        g.selectAll("path.ring").data(p.rings).enter().append("path")
          .attr("class", "ring")
          .attr("d", path)
          .attr("fill", (d, k) => levelColors[k]);

        // faint seams of the density grid
        const seams = g.append("g").attr("clip-path", `url(#outer${i})`)
          .attr("stroke", "#fff").attr("stroke-opacity", 0.2).attr("stroke-width", 1);
        seams.selectAll("line.v").data(p.seams.x).enter().append("line").attr("class", "v")
          .attr("x1", d => x(d)).attr("x2", d => x(d)).attr("y1", p.top).attr("y2", p.top + p.h);
        seams.selectAll("line.h").data(p.seams.y).enter().append("line").attr("class", "h")
          .attr("y1", d => y(d)).attr("y2", d => y(d)).attr("x1", p.left).attr("x2", p.left + panelWidth);

        g.selectAll("circle").data(p.points).enter().append("circle")
          .attr("cx", d => x(d[0])).attr("cy", d => y(d[1]))
          .attr("r", 1.5).attr("fill", "#ffee00");

        g.append("line")
          .attr("clip-path", `url(#frame${i})`)
          .attr("x1", x(p.xd[0])).attr("x2", x(p.xd[1]))
          .attr("y1", y(p.fit[0])).attr("y2", y(p.fit[1]))
          .attr("stroke", "#ee2d2d").attr("stroke-width", 4.6);

        g.append("rect")
          .attr("x", p.left).attr("y", p.top).attr("width", panelWidth).attr("height", p.h)
          .attr("fill", "none").attr("stroke", "#000").attr("stroke-width", 2);

        const xAxis = g.append("g").attr("transform", `translate(0,${p.top + p.h})`)
          .call(d3.axisBottom(x).tickValues(p.xt).tickSize(8).tickPadding(4).tickFormat(d3.format("d")));
        const yAxis = g.append("g").attr("transform", `translate(${p.left},0)`)
          .call(d3.axisLeft(y).tickValues(p.yt).tickSize(8).tickPadding(4).tickFormat(d3.format("d")));
        [xAxis, yAxis].forEach(a => {
          a.select(".domain").remove();
          a.selectAll("line").attr("stroke", "#000").attr("stroke-width", 2);
          a.selectAll("text").attr("font-size", 20.5).attr("fill", "#231f20");
          a.attr("font-family", null);
        });

        const stat = g.append("text").attr("x", p.sx).attr("y", p.sy).attr("font-size", 18.6);
        stat.append("tspan").text(p.stat[0] + "\u00a0\u00a0");
        stat.append("tspan").attr("font-style", "italic").text("p");
        stat.append("tspan").text(p.stat[1]);

        g.append("text").attr("x", p.xlc).attr("y", p.xlb)
          .attr("text-anchor", "middle").attr("font-size", 21.7)
          .call(logLabel, p.xl);

        const seg = p.yl === "seg";
        g.append("text")
          .attr("transform", `translate(${seg ? 76 : 556},${p.top + (seg ? 125 : 110)}) rotate(-90)`)
          .attr("text-anchor", "middle").attr("font-size", 22.8)
          .call(logLabel, seg ? "Segregating sites/nt" : "π");
      });

      [["A", 29], ["B", 365], ["C", 703]].forEach(([t, yy]) => {
        svg.append("text").attr("x", 11).attr("y", yy)
          .attr("font-size", 28).attr("font-weight", "bold").text(t);
      });
    </script>
  </body>
</html>
